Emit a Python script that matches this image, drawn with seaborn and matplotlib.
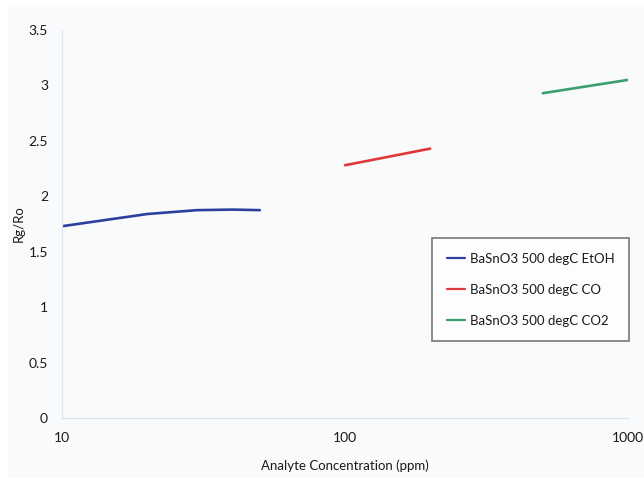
import matplotlib
matplotlib.use("Agg")
import matplotlib.pyplot as plt
from matplotlib.patches import Rectangle
from matplotlib.ticker import FixedLocator, NullFormatter, LogLocator
import seaborn as sns
import pandas as pd

# Sensor response data
etoh_conc = [10, 20, 30, 40, 50]
etoh_resp = [1.73, 1.84, 1.875, 1.88, 1.875]
co_conc = [100, 200]
co_resp = [2.28, 2.43]
co2_conc = [500, 1000]
co2_resp = [2.93, 3.05]

series_names = ["BaSnO3 500 degC EtOH", "BaSnO3 500 degC CO", "BaSnO3 500 degC CO2"]
series_colors = ["#2b3f9e", "#e0383a", "#3a9e6e"]
y_ticks = [0, 0.5, 1, 1.5, 2, 2.5, 3, 3.5]
x_ticks = [10, 100, 1000]

df = pd.concat([
    pd.DataFrame({"conc": etoh_conc, "resp": etoh_resp, "series": series_names[0]}),
    pd.DataFrame({"conc": co_conc, "resp": co_resp, "series": series_names[1]}),
    pd.DataFrame({"conc": co2_conc, "resp": co2_resp, "series": series_names[2]}),
])

sns.set_style("white")
plt.rcParams["font.family"] = ["Lato", "DejaVu Sans"]

bg = "#f9fafc"
fig = plt.figure(figsize=(6.44, 4.78), dpi=100, facecolor=bg)
# white margin strips along top and left
fig.patches.append(Rectangle((0, 1 - 7 / 478), 1, 7 / 478, transform=fig.transFigure,
                             facecolor="white", edgecolor="none", zorder=-1))
fig.patches.append(Rectangle((0, 0), 8 / 644, 1, transform=fig.transFigure,
                             facecolor="white", edgecolor="none", zorder=-1))

ax = fig.add_axes([62 / 644, 1 - 418 / 478, (628 - 62) / 644, (418 - 30) / 478])
ax.set_facecolor(bg)

sns.lineplot(data=df, x="conc", y="resp", hue="series", hue_order=series_names,
             palette=series_colors, linewidth=1.9, ax=ax, sort=True, estimator=None)

ax.set_xscale("log")
ax.set_xlim(10, 1000)
ax.set_ylim(0, 3.5)
ax.xaxis.set_major_locator(FixedLocator(x_ticks))
ax.set_xticklabels([str(t) for t in x_ticks])
ax.xaxis.set_minor_locator(LogLocator(base=10, subs=range(2, 10)))
ax.xaxis.set_minor_formatter(NullFormatter())
ax.set_yticks(y_ticks)
ax.set_yticklabels(["0", "0.5", "1", "1.5", "2", "2.5", "3", "3.5"])

for s in ["top", "right"]:
    ax.spines[s].set_visible(False)
for s in ["left", "bottom"]:
    ax.spines[s].set_color("#dfe4ec")
    ax.spines[s].set_linewidth(0.9)

ax.tick_params(axis="y", which="major", length=3, width=0.8, color="#dfe4ec",
               labelsize=10, labelcolor="#1a1a1a", pad=7)
ax.tick_params(axis="x", which="major", length=4, width=0.8, color="#dfe4ec",
               direction="in", labelsize=10, labelcolor="#1a1a1a", pad=10)
ax.tick_params(axis="x", which="minor", length=3, width=0.8, color="#dfe4ec",
               direction="in")

ax.set_xlabel("Analyte Concentration (ppm)", fontsize=9.5, color="#1a1a1a", labelpad=11)
ax.set_ylabel("Rg/Ro", fontsize=9.5, color="#1a1a1a")
ax.yaxis.set_label_coords(-37 / 566, 0.5)

leg = ax.legend(loc="upper left", bbox_to_anchor=(432 / 644, 1 - 238 / 478),
                bbox_transform=fig.transFigure, frameon=True, fancybox=False,
                fontsize=9.5, handlelength=1.4, handletextpad=0.35,
                labelspacing=1.45, borderpad=1.1, borderaxespad=0)
leg.get_frame().set_edgecolor("#555555")
leg.get_frame().set_linewidth(1.2)
leg.get_frame().set_facecolor("white")
for line in leg.get_lines():
    line.set_linewidth(1.6)
for t in leg.get_texts():
    t.set_color("#1a1a1a")

fig.savefig("out.png", dpi=100, facecolor=bg)
